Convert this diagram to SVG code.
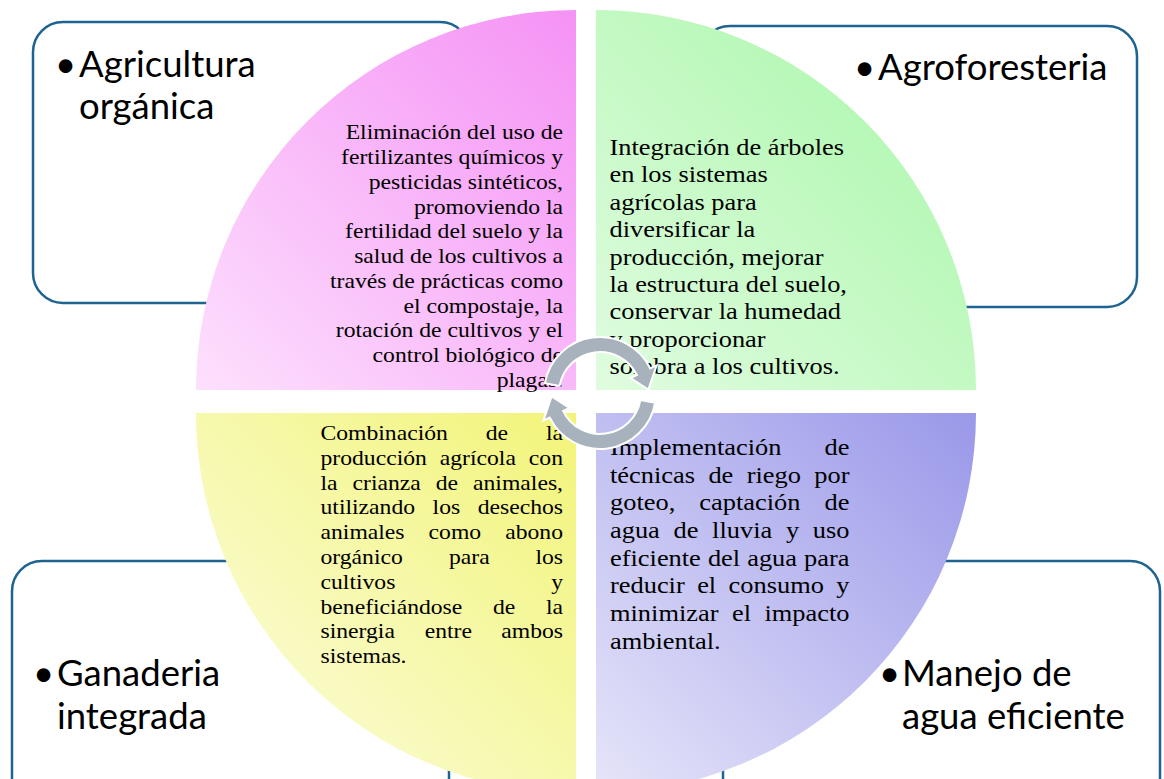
<svg xmlns="http://www.w3.org/2000/svg" width="1164" height="779" viewBox="0 0 1164 779">
<style>
.box{fill:#ffffff;stroke:#1f6390;stroke-width:2.5}
.lbl{font-family:Lato,"Liberation Sans",sans-serif;font-size:36.5px;fill:#000}
.s{font-family:"Liberation Serif","Times New Roman",serif;font-size:21.5px;fill:#000}
.r{text-anchor:end}
.b{font-family:"Liberation Serif","Times New Roman",serif;font-size:24px;fill:#000}
.arr{fill:#a7b2bd;stroke:#ffffff;stroke-width:2}
</style>
<defs>
<linearGradient id="gP" x1="0" y1="1" x2="1" y2="0"><stop offset="0" stop-color="#fde0fd"/><stop offset="1" stop-color="#f592f5"/></linearGradient>
<linearGradient id="gG" x1="0" y1="1" x2="1" y2="0"><stop offset="0" stop-color="#e0fce0"/><stop offset="1" stop-color="#a6f6a6"/></linearGradient>
<linearGradient id="gY" x1="0" y1="1" x2="1" y2="0"><stop offset="0" stop-color="#fbfde2"/><stop offset="1" stop-color="#f2f478"/></linearGradient>
<linearGradient id="gV" x1="0" y1="1" x2="1" y2="0"><stop offset="0" stop-color="#e6e5f9"/><stop offset="1" stop-color="#9a98e9"/></linearGradient>
</defs>

<g id="box-agricultura">
<rect class="box" x="33" y="22" width="437" height="281" rx="30"/>
<text class="lbl" x="55" y="77">•</text>
<text class="lbl" x="79" y="77">Agricultura</text>
<text class="lbl" x="79" y="119">orgánica</text>
</g>
<g id="box-agroforesteria">
<rect class="box" x="700" y="26" width="437" height="281" rx="30"/>
<text class="lbl" x="854" y="80">•</text>
<text class="lbl" x="878" y="80">Agroforesteria</text>
</g>
<g id="box-ganaderia">
<rect class="box" x="12" y="561" width="437" height="300" rx="30"/>
<text class="lbl" x="33" y="686">•</text>
<text class="lbl" x="57" y="686">Ganaderia</text>
<text class="lbl" x="57" y="729">integrada</text>
</g>
<g id="box-agua">
<rect class="box" x="723" y="561" width="437" height="300" rx="30"/>
<text class="lbl" x="879" y="686">•</text>
<text class="lbl" x="902" y="686">Manejo de</text>
<text class="lbl" x="902" y="729">agua eficiente</text>
</g>

<g id="q-agricultura">
<path d="M576 390 L196 390 A380 380 0 0 1 576 10 Z" fill="url(#gP)"/>
<g transform="matrix(1.1 0 0 1 563 0)">
<text class="s r" x="0" y="139">Eliminación del uso de</text>
<text class="s r" x="0" y="164">fertilizantes químicos y</text>
<text class="s r" x="0" y="189">pesticidas sintéticos,</text>
<text class="s r" x="0" y="214">promoviendo la</text>
<text class="s r" x="0" y="238.5">fertilidad del suelo y la</text>
<text class="s r" x="0" y="263">salud de los cultivos a</text>
<text class="s r" x="0" y="288">través de prácticas como</text>
<text class="s r" x="0" y="313">el compostaje, la</text>
<text class="s r" x="0" y="337.5">rotación de cultivos y el</text>
<text class="s r" x="0" y="362">control biológico de</text>
<text class="s r" x="0" y="387">plagas.</text>
</g>
</g>

<g id="q-agroforesteria">
<path d="M596 390 L596 10 A380 380 0 0 1 976 390 Z" fill="url(#gG)"/>
<g transform="matrix(1.1 0 0 1 609.5 0)">
<text class="b" x="0" y="155">Integración de árboles</text>
<text class="b" x="0" y="182.4">en los sistemas</text>
<text class="b" x="0" y="209.8">agrícolas para</text>
<text class="b" x="0" y="237.2">diversificar la</text>
<text class="b" x="0" y="264.6">producción, mejorar</text>
<text class="b" x="0" y="292">la estructura del suelo,</text>
<text class="b" x="0" y="319.4">conservar la humedad</text>
<text class="b" x="0" y="346.8">y proporcionar</text>
<text class="b" x="0" y="374.2">sombra a los cultivos.</text>
</g>
</g>

<g id="q-ganaderia">
<path d="M576 413 L576 793 A380 380 0 0 1 196 413 Z" fill="url(#gY)"/>
<g transform="matrix(1.1 0 0 1 320.5 0)">
<text class="s" y="440"><tspan x="0">Combinación</tspan><tspan x="150.25">de</tspan><tspan x="220.45" text-anchor="end">la</tspan></text>
<text class="s" y="464.8"><tspan x="0">producción</tspan><tspan x="108.45">agrícola</tspan><tspan x="220.45" text-anchor="end">con</tspan></text>
<text class="s" y="489.6"><tspan x="0">la</tspan><tspan x="29.11">crianza</tspan><tspan x="104.77">de</tspan><tspan x="220.45" text-anchor="end">animales,</tspan></text>
<text class="s" y="514.4"><tspan x="0">utilizando</tspan><tspan x="101.88">los</tspan><tspan x="220.45" text-anchor="end">desechos</tspan></text>
<text class="s" y="539.2"><tspan x="0">animales</tspan><tspan x="98.29">como</tspan><tspan x="220.45" text-anchor="end">abono</tspan></text>
<text class="s" y="564"><tspan x="0">orgánico</tspan><tspan x="116.8">para</tspan><tspan x="220.45" text-anchor="end">los</tspan></text>
<text class="s" y="588.8"><tspan x="0">cultivos</tspan><tspan x="220.45" text-anchor="end">y</tspan></text>
<text class="s" y="613.6"><tspan x="0">beneficiándose</tspan><tspan x="156.79">de</tspan><tspan x="220.45" text-anchor="end">la</tspan></text>
<text class="s" y="638.4"><tspan x="0">sinergia</tspan><tspan x="94.71">entre</tspan><tspan x="220.45" text-anchor="end">ambos</tspan></text>
<text class="s" x="0" y="663.2">sistemas.</text>
</g>
</g>

<g id="q-agua">
<path d="M596 413 L976 413 A380 380 0 0 1 596 793 Z" fill="url(#gV)"/>
<g transform="matrix(1.1 0 0 1 610 0)">
<text class="b" y="455"><tspan x="0">Implementación</tspan><tspan x="217.73" text-anchor="end">de</tspan></text>
<text class="b" y="482.7"><tspan x="0">técnicas</tspan><tspan x="89.46">de</tspan><tspan x="124.26">riego</tspan><tspan x="217.73" text-anchor="end">por</tspan></text>
<text class="b" y="510.4"><tspan x="0">goteo,</tspan><tspan x="81.22">captación</tspan><tspan x="217.73" text-anchor="end">de</tspan></text>
<text class="b" y="538.1"><tspan x="0">agua</tspan><tspan x="57.74">de</tspan><tspan x="92.83">lluvia</tspan><tspan x="159.94">y</tspan><tspan x="217.73" text-anchor="end">uso</tspan></text>
<text class="b" y="565.8"><tspan x="0">eficiente</tspan><tspan x="89.02">del</tspan><tspan x="124.73">agua</tspan><tspan x="217.73" text-anchor="end">para</tspan></text>
<text class="b" y="593.5"><tspan x="0">reducir</tspan><tspan x="79.22">el</tspan><tspan x="107.81">consumo</tspan><tspan x="217.73" text-anchor="end">y</tspan></text>
<text class="b" y="621.2"><tspan x="0">minimizar</tspan><tspan x="110.87">el</tspan><tspan x="217.73" text-anchor="end">impacto</tspan></text>
<text class="b" x="0" y="648.9">ambiental.</text>
</g>
</g>

<g id="connectors">
<path id="arrow-top" class="arr" d="M544.85 383.28 A56 56 0 0 1 650.33 368.45 L656.62 365.38 L648.38 389.62 L630.56 378.09 L636.85 375.03 A41 41 0 0 0 559.62 385.88 Z"/>
<path id="arrow-bottom" class="arr" transform="rotate(180 600 393)" d="M544.85 383.28 A56 56 0 0 1 650.33 368.45 L656.62 365.38 L648.38 389.62 L630.56 378.09 L636.85 375.03 A41 41 0 0 0 559.62 385.88 Z"/>
</g>
</svg>
